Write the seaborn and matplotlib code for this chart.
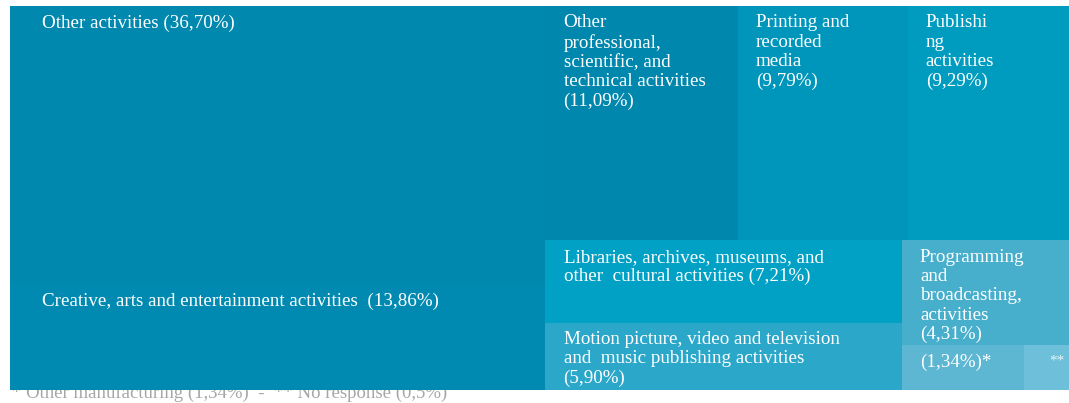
import numpy as np
import matplotlib
matplotlib.use("Agg")
import matplotlib.pyplot as plt
import seaborn as sns

# Shares of respondents by sector (%)
labels = [
    "Other activities (36,70%)",
    "Creative, arts and entertainment activities  (13,86%)",
    "Other\nprofessional,\nscientific, and\ntechnical activities\n(11,09%)",
    "Printing and\nrecorded\nmedia\n(9,79%)",
    "Publishi\nng\nactivities\n(9,29%)",
    "Libraries, archives, museums, and\nother  cultural activities (7,21%)",
    "Motion picture, video and television\nand  music publishing activities\n(5,90%)",
    "Programming\nand\nbroadcasting,\nactivities\n(4,31%)",
    "(1,34%)*",
    "**",
]
values = [36.70, 13.86, 11.09, 9.79, 9.29, 7.21, 5.90, 4.31, 1.34, 0.5]
colors = ["#0088ae", "#008ab1", "#0087ad", "#0096bb", "#009cc0",
          "#00a1c5", "#2aa7c9", "#47afcc", "#5db6d2", "#6ebfda"]
footnote = "* Other manufacturing (1,34%)  -  ** No response (0,5%)"

# nesting of the treemap: ("h", ...) splits side by side, ("v", ...) stacks
tree = ("h",
        ("v", 0, 1),
        ("v",
         ("h", 2, 3, 4),
         ("h",
          ("v", 5, 6),
          ("v", 7, ("h", 8, 9)))))


def total(node):
    if isinstance(node, int):
        return values[node]
    return sum(total(c) for c in node[1:])


def layout(node, x, y, w, h, out):
    if isinstance(node, int):
        out[node] = (x, y, w, h)
        return
    s = total(node)
    for child in node[1:]:
        f = total(child) / s
        if node[0] == "h":
            layout(child, x, y, w * f, h, out)
            x += w * f
        else:
            layout(child, x, y, w, h * f, out)
            y += h * f


rects = {}
layout(tree, 0, 0, 1, 1, rects)

sns.set_theme(style="white")
plt.rcParams["font.family"] = ["Liberation Serif", "DejaVu Serif"]

fig = plt.figure(figsize=(10.69, 4.03), dpi=100)
ax = fig.add_axes([10 / 1069, 13 / 403, 1059 / 1069, 384 / 403])

for i in range(len(values)):
    x, y, w, h = rects[i]
    ax.bar(x, h, width=w, bottom=y, align="edge", color=colors[i],
           edgecolor="none", linewidth=0)
    if labels[i] == "**":
        ax.annotate(labels[i], (x + w, y), xytext=(-3, -7),
                    textcoords="offset points", ha="right", va="top",
                    color="#e6f4f8", fontsize=11)
    else:
        padx = 23 if x == 0 else 13
        ax.annotate(labels[i], (x, y), xytext=(padx, -6),
                    textcoords="offset points", ha="left", va="top",
                    color="white", fontsize=13.7, linespacing=1.18)

ax.set_xlim(0, 1)
ax.set_ylim(1, 0)
ax.set_axis_off()

fig.text(12 / 1069, 1 / 403, footnote, ha="left", va="bottom",
         color="#a6a6a6", fontsize=13.5, zorder=-1)

fig.savefig("out.png", dpi=100)
